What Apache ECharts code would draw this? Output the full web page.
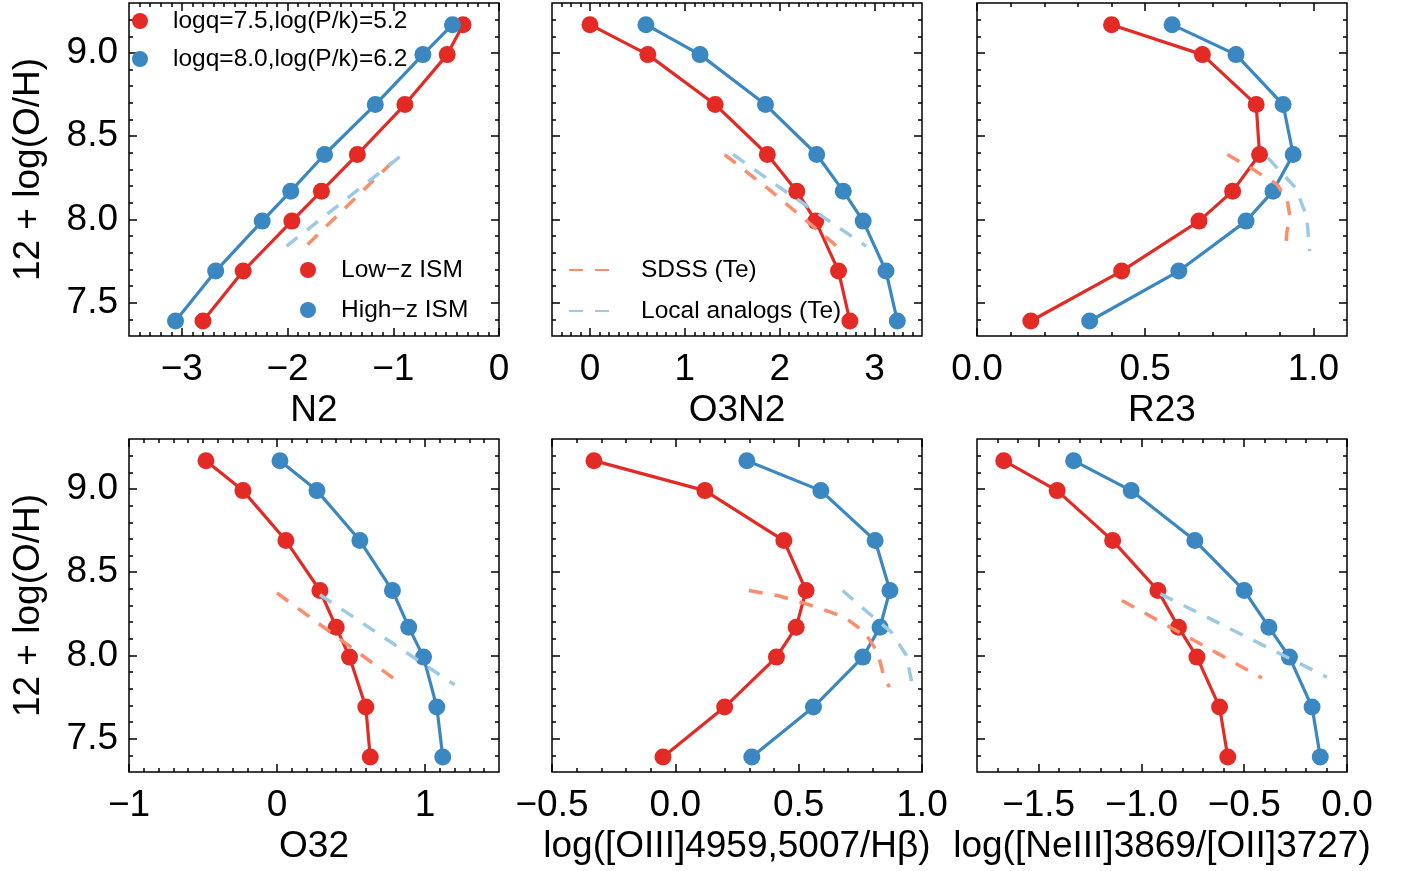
<!DOCTYPE html>
<html><head><meta charset="utf-8">
<script src="https://cdn.jsdelivr.net/npm/echarts@6/dist/echarts.min.js"></script>
<style>html,body{margin:0;padding:0;background:#fff}#c{width:1402px;height:871px}</style>
</head><body><div id="c"></div>
<script>
// ---------- data ----------
const metallicity = [9.17, 8.99, 8.69, 8.39, 8.17, 7.99, 7.69, 7.39];

const n2Low    = [-0.34, -0.49, -0.89, -1.34, -1.68, -1.96, -2.42, -2.80];
const n2High   = [-0.44, -0.72, -1.17, -1.65, -1.97, -2.24, -2.68, -3.06];
const o3n2Low  = [0.00, 0.61, 1.32, 1.87, 2.18, 2.38, 2.62, 2.74];
const o3n2High = [0.59, 1.16, 1.85, 2.39, 2.67, 2.88, 3.12, 3.24];
const r23Low   = [0.40, 0.67, 0.83, 0.84, 0.76, 0.66, 0.43, 0.16];
const r23High  = [0.58, 0.77, 0.91, 0.94, 0.88, 0.80, 0.60, 0.335];
const o32Low   = [-0.48, -0.23, 0.06, 0.29, 0.40, 0.49, 0.60, 0.63];
const o32High  = [0.02, 0.27, 0.56, 0.78, 0.89, 0.99, 1.08, 1.12];
const o3hbLow  = [-0.33, 0.12, 0.44, 0.53, 0.49, 0.41, 0.20, -0.05];
const o3hbHigh = [0.29, 0.59, 0.81, 0.87, 0.83, 0.76, 0.56, 0.31];
const ne3o2Low = [-1.67, -1.41, -1.14, -0.92, -0.82, -0.73, -0.62, -0.58];
const ne3o2High= [-1.33, -1.05, -0.74, -0.50, -0.38, -0.28, -0.17, -0.13];

// calibration curves (x, 12+log(O/H))
const n2SdssX = [-1.81, -1.00],             n2SdssY = [7.85, 8.35];
const n2LocalX = [-2.01, -0.91],            n2LocalY = [7.84, 8.39];
const o3n2SdssX = [1.42, 1.91, 2.60],       o3n2SdssY = [8.39, 8.17, 7.84];
const o3n2LocalX = [1.51, 1.98, 2.91],      o3n2LocalY = [8.39, 8.20, 7.84];
const r23SdssX = [0.744, 0.813, 0.892, 0.922, 0.930, 0.921, 0.918];
const r23SdssY = [8.39, 8.31, 8.21, 8.12, 8.02, 7.92, 7.81];
const r23LocalX = [0.865, 0.947, 0.980, 0.989];
const r23LocalY = [8.37, 8.19, 8.02, 7.81];
const o32SdssX = [0.00, 0.80],              o32SdssY = [8.375, 7.854];
const o32LocalX = [0.29, 1.20],             o32LocalY = [8.365, 7.824];
const o3hbSdssX = [0.298, 0.415, 0.553, 0.686, 0.767, 0.820, 0.848, 0.868];
const o3hbSdssY = [8.39, 8.36, 8.30, 8.23, 8.14, 8.02, 7.86, 7.81];
const o3hbLocalX = [0.678, 0.779, 0.876, 0.937, 0.962];
const o3hbLocalY = [8.39, 8.26, 8.14, 8.00, 7.81];
const ne3o2SdssX = [-1.095, -0.414],        ne3o2SdssY = [8.33, 7.865];
const ne3o2LocalX = [-0.908, -0.098],       ne3o2LocalY = [8.37, 7.87];

// axes
const yTicks = [7.5, 8.0, 8.5, 9.0];
const yTickLabels = ['7.5', '8.0', '8.5', '9.0'];
const yName = '12 + log(O/H)';
const xNames = ['N2', 'O3N2', 'R23', 'O32', 'log([OIII]4959,5007/Hβ)', 'log([NeIII]3869/[OII]3727)'];
const xTicks = [[-3, -2, -1, 0], [0, 1, 2, 3], [0, 0.5, 1.0], [-1, 0, 1], [-0.5, 0, 0.5, 1.0], [-1.5, -1.0, -0.5, 0]];
const xTickLabels = [['−3', '−2', '−1', '0'], ['0', '1', '2', '3'], ['0.0', '0.5', '1.0'], ['−1', '0', '1'],
                     ['−0.5', '0.0', '0.5', '1.0'], ['−1.5', '−1.0', '−0.5', '0.0']];
const xRanges = [[-3.5, 0], [-0.4, 3.5], [0, 1.1], [-1, 1.5], [-0.5, 1.0], [-1.8, 0]];
const yRange = [7.3, 9.3];
const minorStep = 0.1;

const legendTopLabels = {'Low−z ISM': 'logq=7.5,log(P/k)=5.2', 'High−z ISM': 'logq=8.0,log(P/k)=6.2'};

// ---------- build ----------
const RED = '#E32A25', BLUE = '#3A87C2', ORANGE = '#FB8C6C', LIGHT = '#9DCAE2';
const FONT = 'Liberation Sans, Arial, sans-serif';
const FS = 37;
const lows = [n2Low, o3n2Low, r23Low, o32Low, o3hbLow, ne3o2Low];
const highs = [n2High, o3n2High, r23High, o32High, o3hbHigh, ne3o2High];
const sdss = [[n2SdssX, n2SdssY], [o3n2SdssX, o3n2SdssY], [r23SdssX, r23SdssY], [o32SdssX, o32SdssY], [o3hbSdssX, o3hbSdssY], [ne3o2SdssX, ne3o2SdssY]];
const locals = [[n2LocalX, n2LocalY], [o3n2LocalX, o3n2LocalY], [r23LocalX, r23LocalY], [o32LocalX, o32LocalY], [o3hbLocalX, o3hbLocalY], [ne3o2LocalX, ne3o2LocalY]];

const zip = (xs, ys) => xs.map((x, k) => [x, ys[k]]);
const lookup = (vals, labs) => v => { const k = vals.findIndex(t => Math.abs(t - v) < 1e-6); return k < 0 ? '' : labs[k]; };
const minorValues = (lo, hi) => { const out = []; const n = Math.round((hi - lo) / minorStep);
  for (let k = 1; k < n; k++) out.push(+(lo + k * minorStep).toFixed(4)); return out; };

const gridLefts = [129, 552, 977], gridTops = [3, 439];
const grids = [], xAxes = [], yAxes = [], series = [];
const tickLine = {color: '#000', width: 1.5};
const yMinor = minorValues(yRange[0], yRange[1]);

for (let i = 0; i < 6; i++) {
  const col = i % 3, row = Math.floor(i / 3);
  grids.push({left: gridLefts[col], top: gridTops[row], width: 370, height: 333, show: true,
    borderColor: '#000', borderWidth: 1.5, backgroundColor: 'transparent'});
  const xb = {type: 'value', gridIndex: i, min: xRanges[i][0], max: xRanges[i][1],
    axisLine: {show: false, onZero: false}, splitLine: {show: false}, minorTick: {show: false}};
  const xfmt = lookup(xTicks[i], xTickLabels[i]);
  const xMinor = minorValues(xRanges[i][0], xRanges[i][1]);
  xAxes.push(Object.assign({}, xb, {position: 'bottom',
    axisTick: {show: true, inside: true, length: 8, customValues: xTicks[i], lineStyle: tickLine},
    axisLabel: {show: true, customValues: xTicks[i], formatter: xfmt, margin: 15, fontSize: FS, color: '#000', fontFamily: FONT},
    name: xNames[i], nameLocation: 'middle', nameGap: 56,
    nameTextStyle: {fontSize: FS, color: '#000', fontFamily: FONT}}));
  xAxes.push(Object.assign({}, xb, {position: 'bottom',
    axisTick: {show: true, inside: true, length: 4, customValues: xMinor, lineStyle: tickLine}, axisLabel: {show: false}}));
  xAxes.push(Object.assign({}, xb, {position: 'top',
    axisTick: {show: true, inside: true, length: 8, customValues: xTicks[i], lineStyle: tickLine}, axisLabel: {show: false}}));
  xAxes.push(Object.assign({}, xb, {position: 'top',
    axisTick: {show: true, inside: true, length: 4, customValues: xMinor, lineStyle: tickLine}, axisLabel: {show: false}}));

  const yb = {type: 'value', gridIndex: i, min: yRange[0], max: yRange[1],
    axisLine: {show: false, onZero: false}, splitLine: {show: false}, minorTick: {show: false}};
  const yfmt = lookup(yTicks, yTickLabels);
  const yMajorLeft = Object.assign({}, yb, {position: 'left',
    axisTick: {show: true, inside: true, length: 8, customValues: yTicks, lineStyle: tickLine},
    axisLabel: {show: col === 0, customValues: yTicks, formatter: yfmt, margin: 11, fontSize: FS, color: '#000', fontFamily: FONT}});
  if (col === 0) Object.assign(yMajorLeft, {name: yName, nameLocation: 'middle', nameRotate: 90, nameGap: 82,
    nameTextStyle: {fontSize: FS, color: '#000', fontFamily: FONT}});
  yAxes.push(yMajorLeft);
  yAxes.push(Object.assign({}, yb, {position: 'left',
    axisTick: {show: true, inside: true, length: 4, customValues: yMinor, lineStyle: tickLine}, axisLabel: {show: false}}));
  yAxes.push(Object.assign({}, yb, {position: 'right',
    axisTick: {show: true, inside: true, length: 8, customValues: yTicks, lineStyle: tickLine}, axisLabel: {show: false}}));
  yAxes.push(Object.assign({}, yb, {position: 'right',
    axisTick: {show: true, inside: true, length: 4, customValues: yMinor, lineStyle: tickLine}, axisLabel: {show: false}}));

  const ax = {xAxisIndex: 4 * i, yAxisIndex: 4 * i};
  series.push(Object.assign({type: 'line', name: 'Low−z ISM', data: zip(lows[i], metallicity), symbol: 'circle', symbolSize: 17,
    lineStyle: {color: RED, width: 3.2}, itemStyle: {color: RED}, z: 2}, ax));
  series.push(Object.assign({type: 'line', name: 'High−z ISM', data: zip(highs[i], metallicity), symbol: 'circle', symbolSize: 17,
    lineStyle: {color: BLUE, width: 3.2}, itemStyle: {color: BLUE}, z: 2}, ax));
  series.push(Object.assign({type: 'line', name: 'SDSS (Te)', data: zip(sdss[i][0], sdss[i][1]), symbol: 'none',
    lineStyle: {color: ORANGE, width: 3.5, type: [14, 12]}, itemStyle: {color: ORANGE}, z: 3}, ax));
  series.push(Object.assign({type: 'line', name: 'Local analogs (Te)', data: zip(locals[i][0], locals[i][1]), symbol: 'none',
    lineStyle: {color: LIGHT, width: 3.5, type: [14, 12]}, itemStyle: {color: LIGHT}, z: 3}, ax));
}

const legText = {fontSize: 24.5, color: '#000', fontFamily: FONT, lineHeight: 24, padding: [10, 0, 0, 20]};
const option = {
  animation: false,
  backgroundColor: '#fff',
  grid: grids, xAxis: xAxes, yAxis: yAxes, series: series,
  legend: [
    {data: ['Low−z ISM', 'High−z ISM'], orient: 'vertical', left: 132, top: 4, padding: 0, itemGap: 4,
     icon: 'circle', itemWidth: 16, itemHeight: 16, selectedMode: false,
     formatter: n => legendTopLabels[n], textStyle: legText},
    {data: ['Low−z ISM', 'High−z ISM'], orient: 'vertical', left: 300, top: 253, padding: 0, itemGap: 6,
     icon: 'circle', itemWidth: 16, itemHeight: 16, selectedMode: false, textStyle: legText},
    {data: ['SDSS (Te)', 'Local analogs (Te)'], orient: 'vertical', left: 568, top: 253, padding: 0, itemGap: 7,
     itemWidth: 40, itemHeight: 14, selectedMode: false, itemStyle: {opacity: 0},
     textStyle: Object.assign({}, legText, {padding: [10, 0, 0, 27]})}
  ]
};
const chart = echarts.init(document.getElementById('c'), null, {renderer: 'canvas'});
chart.setOption(option);
</script></body></html>
